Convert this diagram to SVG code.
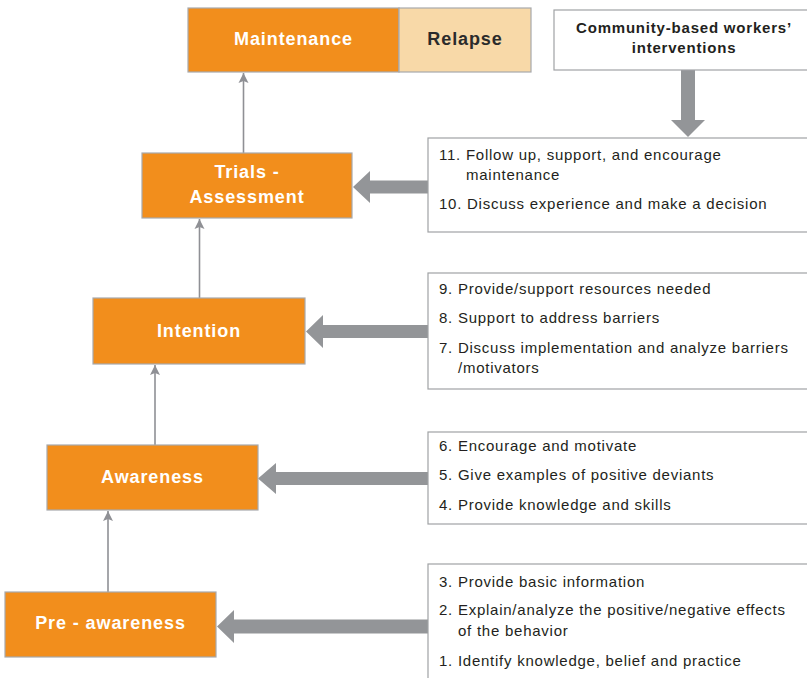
<svg xmlns="http://www.w3.org/2000/svg" width="807" height="678" viewBox="0 0 807 678">
  <style>
    .stage { fill: #f28e1c; stroke: #a7a9ac; stroke-width: 1.2; }
    .relapse { fill: #f8d9a8; stroke: #a7a9ac; stroke-width: 1.2; }
    .panel { fill: #ffffff; stroke: #a0a2a5; stroke-width: 1.2; }
    .title { font-family: "Liberation Sans", Arial, sans-serif; font-weight: bold; font-size: 18px; letter-spacing: 0.9px; fill: #ffffff; text-anchor: middle; }
    .title.dark { fill: #2b2b2b; }
    .head { font-family: "Liberation Sans", Arial, sans-serif; font-weight: bold; font-size: 15px; letter-spacing: 0.8px; fill: #231f20; text-anchor: middle; }
    .item { font-family: "Liberation Sans", Arial, sans-serif; font-size: 15px; letter-spacing: 0.75px; fill: #231f20; }
    .link { stroke: #8f9095; stroke-width: 1.6; fill: none; }
    .fat { fill: #939598; }
  </style>
  <defs>
    <marker id="tip" viewBox="0 0 10 16" refX="10" refY="8" markerWidth="10" markerHeight="16" markerUnits="userSpaceOnUse" orient="auto">
      <path d="M0,3 L10,8 L0,13 L2,8 Z" fill="#8f9095"/>
    </marker>
  </defs>

  <!-- stage connectors and intervention arrows -->
  <g id="connectors">
    <line class="link" x1="108" y1="592" x2="108" y2="511" marker-end="url(#tip)"/>
    <line class="link" x1="155" y1="445" x2="155" y2="365" marker-end="url(#tip)"/>
    <line class="link" x1="199.5" y1="298" x2="199.5" y2="219" marker-end="url(#tip)"/>
    <line class="link" x1="243.5" y1="153" x2="243.5" y2="73" marker-end="url(#tip)"/>

    <path class="fat" d="M681,70 H695 V120 H705 L688,137 L671,120 H681 Z"/>
    <path class="fat" d="M428,180.5 H370 V171 L353,187 L370,203 V193.5 H428 Z"/>
    <path class="fat" d="M428,325 H323 V315 L306,331.5 L323,348 V338 H428 Z"/>
    <path class="fat" d="M428,472 H276 V463 L258,478.5 L276,494 V485 H428 Z"/>
    <path class="fat" d="M428,619.5 H234 V610 L217,626.5 L234,643 V633.5 H428 Z"/>
  </g>

  <g id="maintenance">
    <rect class="stage" x="188" y="8" width="211" height="64"/>
    <text class="title" x="293.5" y="45">Maintenance</text>
  </g>
  <g id="relapse">
    <rect class="relapse" x="399" y="8" width="132" height="64"/>
    <text class="title dark" x="465" y="45">Relapse</text>
  </g>

  <g id="community-workers">
    <rect class="panel" x="554" y="10" width="260" height="60"/>
    <text class="head" x="684" y="33">Community-based workers’</text>
    <text class="head" x="684" y="53">interventions</text>
  </g>

  <g id="trials-assessment">
    <rect class="stage" x="142" y="153" width="210" height="65"/>
    <text class="title" x="247" y="178">Trials -</text>
    <text class="title" x="247" y="203">Assessment</text>
  </g>
  <g id="steps-10-11">
    <rect class="panel" x="428" y="138" width="390" height="94"/>
    <text class="item" x="439" y="160">11. Follow up, support, and encourage</text>
    <text class="item" x="466" y="180">maintenance</text>
    <text class="item" x="439" y="209">10. Discuss experience and make a decision</text>
  </g>

  <g id="intention">
    <rect class="stage" x="93" y="298" width="212" height="66"/>
    <text class="title" x="199" y="337">Intention</text>
  </g>
  <g id="steps-7-9">
    <rect class="panel" x="428" y="273" width="390" height="116"/>
    <text class="item" x="439" y="294">9. Provide/support resources needed</text>
    <text class="item" x="439" y="323">8. Support to address barriers</text>
    <text class="item" x="439" y="353">7. Discuss implementation and analyze barriers</text>
    <text class="item" x="458" y="373">/motivators</text>
  </g>

  <g id="awareness">
    <rect class="stage" x="47" y="445" width="211" height="65"/>
    <text class="title" x="152.5" y="483">Awareness</text>
  </g>
  <g id="steps-4-6">
    <rect class="panel" x="428" y="432" width="390" height="92"/>
    <text class="item" x="439" y="451">6. Encourage and motivate</text>
    <text class="item" x="439" y="480">5. Give examples of positive deviants</text>
    <text class="item" x="439" y="510">4. Provide knowledge and skills</text>
  </g>

  <g id="pre-awareness">
    <rect class="stage" x="5" y="592" width="211" height="65"/>
    <text class="title" x="110.5" y="629">Pre - awareness</text>
  </g>
  <g id="steps-1-3">
    <rect class="panel" x="428" y="564" width="390" height="130"/>
    <text class="item" x="439" y="587">3. Provide basic information</text>
    <text class="item" x="439" y="615">2. Explain/analyze the positive/negative effects</text>
    <text class="item" x="458" y="636">of the behavior</text>
    <text class="item" x="439" y="666">1. Identify knowledge, belief and practice</text>
  </g>
</svg>
